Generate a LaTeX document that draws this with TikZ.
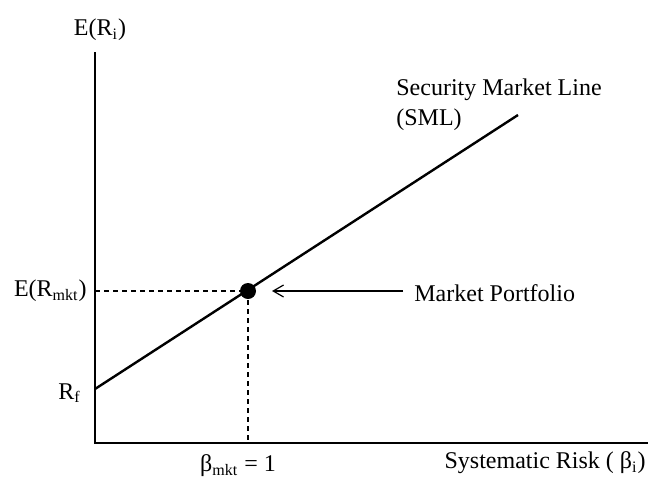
\documentclass[tikz,border=0pt]{standalone}
\usepackage{fontspec}
\setmainfont{Liberation Serif}
\usetikzlibrary{arrows.meta}
\tikzset{
  axis/.style={line width=1pt},
  guide/.style={dashed, line width=0.6pt, dash pattern=on 2.5pt off 2pt},
  lbl/.style={font=\fontsize{12}{15}\selectfont, inner sep=0pt}
}
\begin{document}
\begin{tikzpicture}[x=0.5pt,y=-0.5pt]
            \useasboundingbox (0,0) rectangle (648,477);
            % axes
            \coordinate (O) at (95,443);
            \coordinate (ytop) at (95,52);
            \coordinate (xend) at (648,443);
            \draw[axis] (ytop) -- (O) -- (xend);
            \node[lbl] (ylab) at (100,30) {E(R\textsubscript{i})};
            \node[lbl, anchor=east] (xlab) at (646,463) {Systematic Risk ( β\textsubscript{i})};
            % security market line
            \coordinate (rf) at (95,389);
            \coordinate (smlend) at (518,115);
            \draw[line width=1.2pt] (rf) -- (smlend);
            \node[lbl, anchor=east] (rflab) at (81,393) {R\textsubscript{f}};
            \node[lbl, anchor=north west, align=left] (smllab) at (396,78) {Security Market Line\\(SML)};
            % market portfolio
            \node[circle, fill=black, inner sep=0pt, minimum size=8pt] (mkt) at (248,291) {};
            \coordinate (ymkt) at (95,291);
            \coordinate (xmkt) at (248,443);
            \draw[guide] (ymkt) -- (mkt.center) -- (xmkt);
            \node[lbl, anchor=east] (ymktlab) at (87,291) {E(R\textsubscript{mkt})};
            \node[lbl] (xmktlab) at (238,466) {β\textsubscript{mkt} = 1};
            \node[lbl, anchor=west] (portlab) at (414,293) {Market Portfolio};
            \coordinate (arrstart) at (403,291);
            \draw[-{Straight Barb[angle=60:6pt]}, line width=0.6pt] (arrstart) -- (272,291);
        \end{tikzpicture}
\end{document}
